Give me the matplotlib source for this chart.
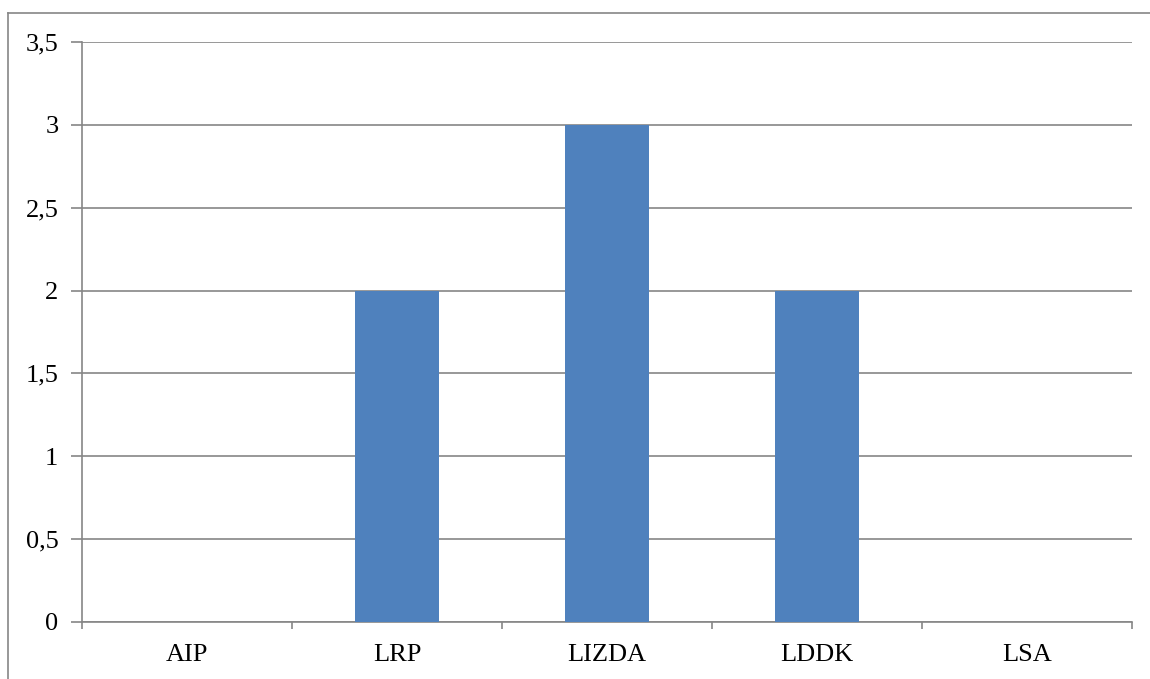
import numpy as np
import matplotlib.pyplot as plt
from matplotlib.lines import Line2D

categories = ["AIP", "LRP", "LIZDA", "LDDK", "LSA"]
values = [0, 2, 3, 2, 0]
yticks = [0, 0.5, 1, 1.5, 2, 2.5, 3, 3.5]
ytick_labels = ["0", "0,5", "1", "1,5", "2", "2,5", "3", "3,5"]

plt.rcParams['font.family'] = ['Liberation Serif', 'DejaVu Serif']

W, H = 1150, 679
fig = plt.figure(figsize=(W/100, H/100), dpi=100)
ax = fig.add_axes([82/W, 1 - 622/H, (1132-82)/W, (622-42)/H])

grey = '#868686'
x = np.arange(len(categories))
ax.bar(x, values, width=0.4, color='#4F81BD', zorder=3)

ax.set_xlim(-0.5, len(categories) - 0.5)
ax.set_ylim(0, 3.5)
ax.set_yticks(yticks)
ax.set_yticklabels(ytick_labels, fontsize=19)
ax.set_xticks(x)
ax.set_xticklabels(categories, fontsize=19)
ax.tick_params(axis='x', length=0, pad=16)
ax.set_xticks(np.arange(-0.5, len(categories), 1), minor=True)
ax.tick_params(axis='x', which='minor', length=5, color=grey, width=1.2)
ax.tick_params(axis='y', length=8, color=grey, width=1.2, pad=9)

ax.grid(axis='y', color=grey, linewidth=1.2, zorder=0)
for s in ['top', 'right']:
    ax.spines[s].set_visible(False)
for s in ['left', 'bottom']:
    ax.spines[s].set_color(grey)
    ax.spines[s].set_linewidth(1.2)

# outer frame
fig.add_artist(Line2D([8/W, 1], [1 - 13/H, 1 - 13/H], color=grey, lw=1.2, transform=fig.transFigure))
fig.add_artist(Line2D([8/W, 8/W], [0, 1 - 13/H], color=grey, lw=1.2, transform=fig.transFigure))

fig.savefig("out.png", dpi=100)
